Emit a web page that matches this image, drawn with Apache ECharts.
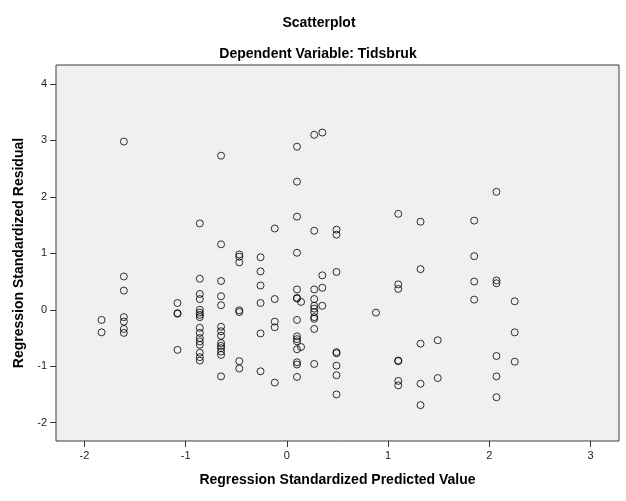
<!DOCTYPE html>
<html>
<head>
<meta charset="utf-8">
<script src="https://cdn.jsdelivr.net/npm/echarts@6/dist/echarts.min.js"></script>
<style>
html,body{margin:0;padding:0;background:#fff;}
#c{width:626px;height:501px;}
</style>
</head>
<body>
<div id="c"></div>
<script>
// Regression standardized predicted values (x) and residuals (y)
var predicted = [
  -1.83, -1.83,
  -1.61, -1.61, -1.61, -1.61, -1.61, -1.61, -1.61,
  -1.08, -1.08, -1.08, -1.08,
  -0.86, -0.86, -0.86, -0.86, -0.86, -0.86, -0.86, -0.86, -0.86, -0.86, -0.86, -0.86, -0.86, -0.86, -0.86, -0.86,
  -0.65, -0.65, -0.65, -0.65, -0.65, -0.65, -0.65, -0.65, -0.65, -0.65, -0.65, -0.65, -0.65, -0.65,
  -0.47, -0.47, -0.47, -0.47, -0.47, -0.47, -0.47,
  -0.26, -0.26, -0.26, -0.26, -0.26, -0.26,
  -0.12, -0.12, -0.12, -0.12, -0.12,
  0.10, 0.10, 0.10, 0.10, 0.10, 0.10, 0.10, 0.10, 0.10, 0.10, 0.10, 0.10, 0.10, 0.10, 0.10,
  0.14, 0.14,
  0.27, 0.27, 0.27, 0.27, 0.27, 0.27, 0.27, 0.27, 0.27, 0.27, 0.27,
  0.35, 0.35, 0.35, 0.35,
  0.49, 0.49, 0.49, 0.49, 0.49, 0.49, 0.49, 0.49,
  0.88,
  1.10, 1.10, 1.10, 1.10, 1.10, 1.10, 1.10,
  1.32, 1.32, 1.32, 1.32, 1.32,
  1.49, 1.49,
  1.85, 1.85, 1.85, 1.85,
  2.07, 2.07, 2.07, 2.07, 2.07, 2.07,
  2.25, 2.25, 2.25
];
var residual = [
  -0.18, -0.40,
  2.98, 0.59, 0.34, -0.13, -0.21, -0.34, -0.41,
  0.12, -0.07, -0.06, -0.71,
  1.53, 0.55, 0.28, 0.19, 0.00, -0.05, -0.09, -0.13, -0.32, -0.41, -0.50, -0.56, -0.62, -0.76, -0.84, -0.90,
  2.73, 1.16, 0.51, 0.24, 0.08, -0.30, -0.38, -0.46, -0.59, -0.64, -0.68, -0.74, -0.80, -1.18,
  0.98, 0.94, 0.84, -0.01, -0.04, -0.91, -1.04,
  0.93, 0.68, 0.43, 0.12, -0.42, -1.09,
  1.44, 0.19, -0.21, -0.31, -1.29,
  2.89, 2.27, 1.65, 1.01, 0.36, 0.21, 0.20, -0.18, -0.47, -0.52, -0.56, -0.70, -0.93, -0.97, -1.19,
  0.14, -0.66,
  3.10, 1.40, 0.36, 0.19, 0.07, 0.02, -0.04, -0.13, -0.16, -0.34, -0.96,
  3.14, 0.61, 0.39, 0.07,
  1.42, 1.33, 0.67, -0.75, -0.77, -0.99, -1.16, -1.50,
  -0.05,
  1.70, 0.45, 0.37, -0.90, -0.91, -1.26, -1.34,
  1.56, 0.72, -0.60, -1.31, -1.69,
  -0.54, -1.21,
  1.58, 0.95, 0.50, 0.18,
  2.09, 0.52, 0.47, -0.82, -1.18, -1.55,
  0.15, -0.40, -0.92
];
var xTicks = [-2, -1, 0, 1, 2, 3];
var yTicks = [-2, -1, 0, 1, 2, 3, 4];

var points = predicted.map(function (x, i) { return [x, residual[i]]; });

var font = "'Liberation Sans', Arial, sans-serif";
var chart = echarts.init(document.getElementById('c'), null, {renderer: 'canvas'});
chart.setOption({
  animation: false,
  backgroundColor: '#ffffff',
  title: [
    {text: 'Scatterplot', left: 314, top: 11, textAlign: 'center',
     textStyle: {fontFamily: font, fontSize: 14, fontWeight: 'bold', color: '#000'}},
    {text: 'Dependent Variable: Tidsbruk', left: 313, top: 42, textAlign: 'center',
     textStyle: {fontFamily: font, fontSize: 14, fontWeight: 'bold', color: '#000'}}
  ],
  grid: {left: 56, right: 7, top: 65, bottom: 60, show: true,
         backgroundColor: '#f0f0f0', borderColor: '#3c3c3c', borderWidth: 1},
  xAxis: {
    type: 'value', min: -2.28, max: 3.28,
    name: 'Regression Standardized Predicted Value', nameLocation: 'middle', nameGap: 32,
    nameTextStyle: {fontFamily: font, fontSize: 14, fontWeight: 'bold', color: '#000'},
    axisLine: {show: false, onZero: false},
    axisTick: {show: true, length: 6, customValues: xTicks, lineStyle: {color: '#333'}},
    axisLabel: {customValues: xTicks, margin: 9, fontFamily: font, fontSize: 11, color: '#222'},
    splitLine: {show: false}
  },
  yAxis: {
    type: 'value', min: -2.325, max: 4.337,
    name: 'Regression Standardized Residual', nameLocation: 'middle', nameGap: 26,
    nameTextStyle: {fontFamily: font, fontSize: 14, fontWeight: 'bold', color: '#000'},
    axisLine: {show: false, onZero: false},
    axisTick: {show: true, length: 6, customValues: yTicks, lineStyle: {color: '#333'}},
    axisLabel: {customValues: yTicks, margin: 9, fontFamily: font, fontSize: 11, color: '#222'},
    splitLine: {show: false}
  },
  series: [{
    type: 'scatter',
    data: points,
    symbol: 'circle',
    symbolSize: 7,
    itemStyle: {color: 'rgba(0,0,0,0)', borderColor: '#000', borderWidth: 1},
    emphasis: {disabled: true}
  }]
});
</script>
</body>
</html>
